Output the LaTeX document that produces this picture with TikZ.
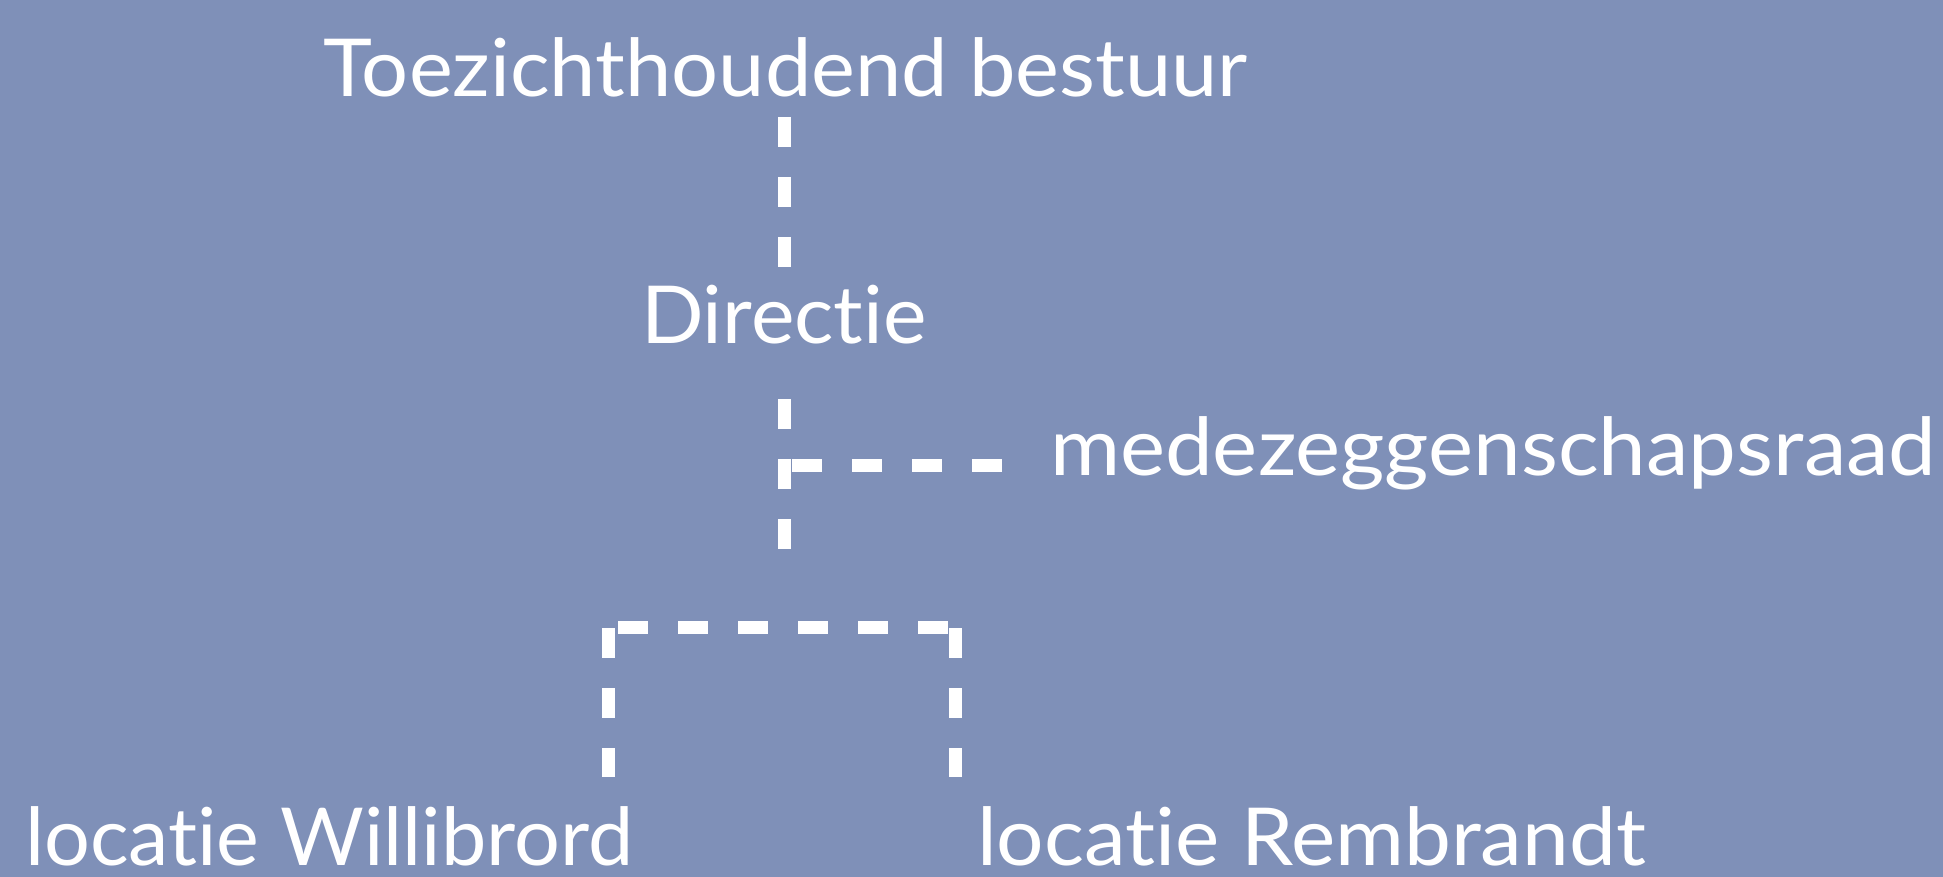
\documentclass[tikz,border=0pt]{standalone}
\usepackage{graphicx}
\usepackage{fontspec}
\setmainfont{Lato}[Ligatures={NoCommon}]
\definecolor{bg}{HTML}{7F90B8}
\begin{document}
\begin{tikzpicture}[x=1pt,y=-1pt,
  lbl/.style={anchor=base west, inner sep=0pt, outer sep=0pt, text=white, font=\fontsize{80}{96}\selectfont},
  dline/.style={draw=white, line width=13pt, dash pattern=on 30pt off 30pt}]
\fill[bg] (0,0) rectangle (1943,877);
\useasboundingbox (0,0) rectangle (1943,877);
% labels
\node[lbl] (toez) at (323,97) {\scalebox{1.037}[1]{Toezichthoudend bestuur}};
\node[lbl] (dir) at (641,343) {\scalebox{1.03}[1]{Directie}};
\node[lbl] (mr) at (1050,475) {\scalebox{1.066}[1]{medezeggenschapsraad}};
\node[lbl] (wil) at (25,865) {\scalebox{1.012}[1]{locatie Willibrord}};
\node[lbl] (rem) at (977,865) {\scalebox{1.047}[1]{locatie Rembrandt}};
% connector points
\coordinate (t1) at (784,117);
\coordinate (d1) at (784,267);
\coordinate (d2) at (784,399);
\coordinate (d3) at (784,549);
\coordinate (m1) at (792,465);
\coordinate (m2) at (1004,465);
\coordinate (bl) at (618,627);
\coordinate (br) at (949,627);
\coordinate (w1) at (608,628);
\coordinate (w2) at (608,777);
\coordinate (r1) at (955,628);
\coordinate (r2) at (955,777);
% connectors
\draw[dline] (t1) -- (d1);
\draw[dline] (d2) -- (d3);
\draw[dline] (m1) -- (m2);
\draw[dline] (bl) -- (br);
\draw[dline] (w1) -- (w2);
\draw[dline] (r1) -- (r2);
\end{tikzpicture}
\end{document}
